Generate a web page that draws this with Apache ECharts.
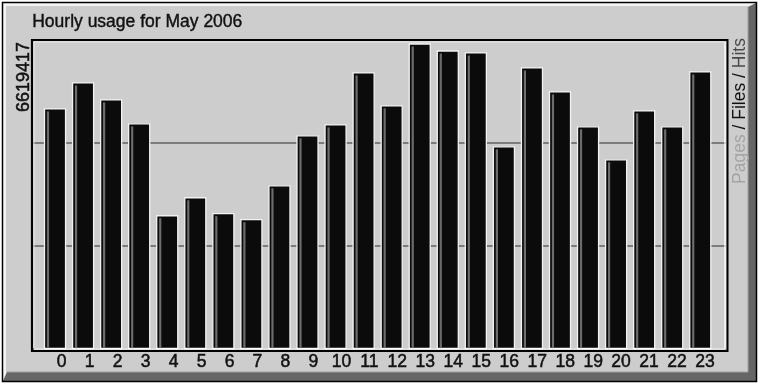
<!DOCTYPE html>
<html><head><meta charset="utf-8">
<script src="https://cdn.jsdelivr.net/npm/echarts@6/dist/echarts.min.js"></script>
<style>html,body{margin:0;padding:0;background:#fff}#c{width:759px;height:384px}</style>
</head><body><div id="c"></div><script>
// ---- data ----
const titleText = 'Hourly usage for May 2006';
const hours = ['0','1','2','3','4','5','6','7','8','9','10','11','12','13','14','15','16','17','18','19','20','21','22','23'];
const hits = [5208000,5773000,5404000,4883000,2886000,3277000,2930000,2800000,3537000,4623000,4861000,5990000,5274000,6619417,6467000,6424000,4384000,6098000,5577000,4818000,4102000,5165000,4818000,6011000];
const maxLabel = '6619417';
const legendParts = ['Pages', 'Files', 'Hits'];
const yMax = 6706000;

const FONT = 'Liberation Sans, Arial, sans-serif';
const chart = echarts.init(document.getElementById('c'), null, {renderer:'canvas'});

const option = {
  backgroundColor: '#cdcdcd',
  animation: false,
  grid: [
    {left: 41, right: 44.7, top: 40, bottom: 35.5},   // bars
    {left: 47.7, right: 40, top: 40, bottom: 22},     // hour labels
    {left: 33, right: 33, top: 40, bottom: 35.5}      // frame / gridlines
  ],
  xAxis: [
    {gridIndex:0, type:'category', data:hours, boundaryGap:true, axisLine:{show:false}, axisTick:{show:false}, axisLabel:{show:false}},
    {gridIndex:1, type:'category', data:hours, boundaryGap:true, axisLine:{show:false}, axisTick:{show:false},
      axisLabel:{show:true, interval:0, margin:0, verticalAlign:'middle', color:'#111', fontSize:17.5, fontFamily:FONT, textBorderColor:'#111', textBorderWidth:0.5}},
    {gridIndex:2, type:'category', data:hours, axisLine:{show:false}, axisTick:{show:false}, axisLabel:{show:false}}
  ],
  yAxis: [
    {gridIndex:0, type:'value', min:0, max:yMax, splitLine:{show:false}, axisLine:{show:false}, axisTick:{show:false}, axisLabel:{show:false}},
    {gridIndex:1, type:'value', min:0, max:1, splitLine:{show:false}, axisLine:{show:false}, axisTick:{show:false}, axisLabel:{show:false}},
    {gridIndex:2, type:'value', min:0, max:yMax, interval:yMax/3, splitLine:{show:true, lineStyle:{color:'#606060', width:1.7}}, axisLine:{show:false}, axisTick:{show:false}, axisLabel:{show:false}}
  ],
  series: [{
    type:'custom', xAxisIndex:0, yAxisIndex:0, z:5,
    data: hits.map((v,i)=>[i,v]),
    renderItem: function(params, api){
      const i = api.value(0), v = api.value(1);
      const t = api.coord([i, v]), b = api.coord([i, 0]);
      const bw = api.size([1,0])[0];
      const w = bw*0.75;
      const x0 = t[0]-w/2;
      const h = b[1]-t[1];
      return {type:'group', children:[
        {type:'rect', shape:{x:x0, y:t[1], width:w, height:h}, style:{fill:'#0b0b0b', stroke:'#f2f2f2', lineWidth:1.3}},
        {type:'rect', shape:{x:x0+2.4, y:t[1]+2.5, width:2.2, height:h-2.5}, style:{fill:'#6c6c6c'}}
      ]};
    }
  }],
  graphic: [
    // white outside border
    {type:'rect', shape:{x:0,y:0,width:759,height:2}, style:{fill:'#fff'}, silent:true},
    {type:'rect', shape:{x:0,y:382,width:759,height:2}, style:{fill:'#fff'}, silent:true},
    {type:'rect', shape:{x:0,y:0,width:2,height:384}, style:{fill:'#fff'}, silent:true},
    {type:'rect', shape:{x:757,y:0,width:2,height:384}, style:{fill:'#fff'}, silent:true},
    // bevels
    {type:'polygon', shape:{points:[[3,3],[756,3],[752,6],[6,6],[6,375],[3,380]]}, style:{fill:'#f4f4f4'}, silent:true},
    {type:'polygon', shape:{points:[[756,3],[756,381],[3,381],[7,372],[748,372],[748,7]]}, style:{fill:'#666666'}, silent:true},
    {type:'line', shape:{x1:7,y1:372,x2:748,y2:372}, style:{stroke:'#a0a0a0', lineWidth:1}, silent:true},
    {type:'line', shape:{x1:748,y1:7,x2:748,y2:372}, style:{stroke:'#a0a0a0', lineWidth:1}, silent:true},
    {type:'rect', shape:{x:2.5,y:2.5,width:754,height:379}, style:{fill:'none', stroke:'#000', lineWidth:1.5}, silent:true},
    // plot frame
    {type:'polyline', shape:{points:[[32,351],[32,40],[727,40]]}, style:{stroke:'#000', lineWidth:2.2, fill:null}, z:10, silent:true},
    {type:'polyline', shape:{points:[[34,349],[725,349],[725,42]]}, style:{stroke:'#fff', lineWidth:1.3, fill:null}, z:10, silent:true},
    {type:'polyline', shape:{points:[[31,351],[727.5,351],[727.5,39]]}, style:{stroke:'#000', lineWidth:2, fill:null}, z:10, silent:true},
    {type:'polyline', shape:{points:[[34,348],[34,42],[724,42]]}, style:{stroke:'#e8e8e8', lineWidth:1, fill:null}, z:10, silent:true},
    // title
    {type:'text', left:32, top:13, style:{text:titleText, font:'17.5px '+FONT, fill:'#111', stroke:'#111', lineWidth:0.4}, silent:true},
    // max label (rotated)
    {type:'text', x:24, y:77, rotation:Math.PI/2, style:{text:maxLabel, font:'18px '+FONT, fill:'#111', stroke:'#111', lineWidth:0.5, textAlign:'center', textVerticalAlign:'middle'}, silent:true},
    // legend label (rotated, rich text)
    {type:'text', x:740, y:111, rotation:Math.PI/2, silent:true,
      style:{text:'{p|'+legendParts[0]+'}{f| / '+legendParts[1]+' / }{h|'+legendParts[2]+'}', textAlign:'center', textVerticalAlign:'middle',
        rich:{p:{fill:'#a4a4a4', font:'17.5px '+FONT}, f:{fill:'#111', font:'17.5px '+FONT}, h:{fill:'#4a4a4a', font:'17.5px '+FONT}}}}
  ]
};
chart.setOption(option);
</script></body></html>
